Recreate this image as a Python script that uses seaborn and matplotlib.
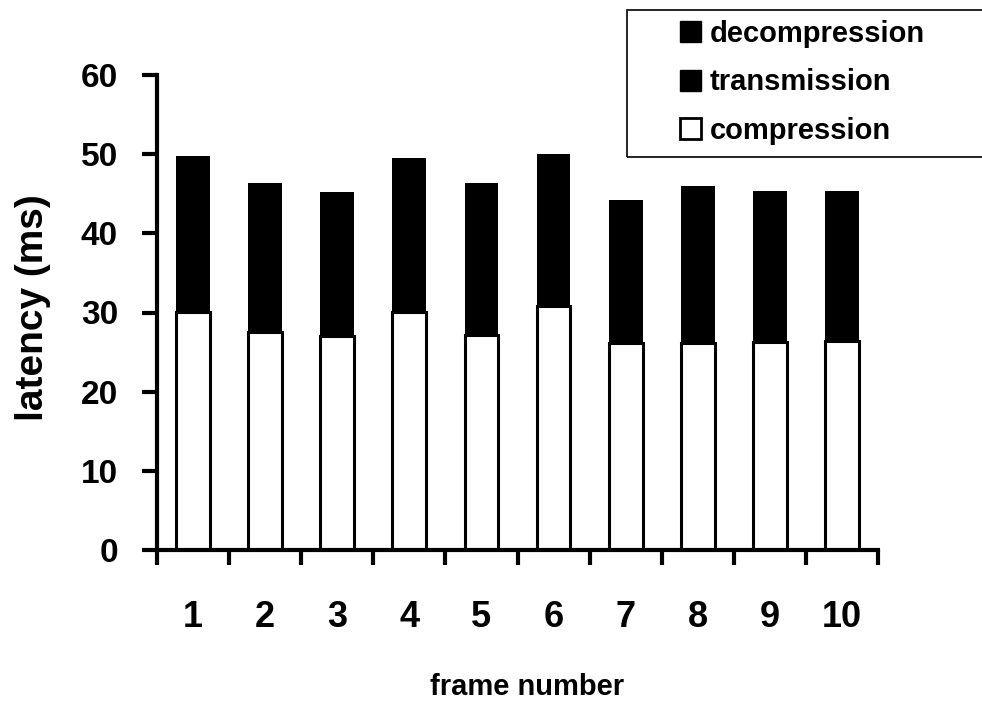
import matplotlib
matplotlib.use("Agg")
import matplotlib.pyplot as plt
from matplotlib.patches import Patch, Rectangle
import seaborn as sns
import pandas as pd
import numpy as np

# Latency per frame (ms), stacked: compression at the bottom
frames = ["1", "2", "3", "4", "5", "6", "7", "8", "9", "10"]
compression = [30.1, 27.5, 27.0, 30.1, 27.1, 30.8, 26.1, 26.1, 26.3, 26.4]
transmission = [19.2, 18.3, 17.7, 18.9, 18.7, 18.7, 17.6, 19.4, 18.5, 18.5]
decompression = [0.5, 0.5, 0.5, 0.5, 0.5, 0.5, 0.5, 0.5, 0.5, 0.5]
y_ticks = [0, 10, 20, 30, 40, 50, 60]

sns.set_theme(style="white")
plt.rcParams["font.family"] = ["Liberation Sans", "DejaVu Sans"]
plt.rcParams["font.weight"] = "bold"
for key in ["text.color", "axes.labelcolor", "xtick.color", "ytick.color"]:
    plt.rcParams[key] = "black"

df = pd.DataFrame({
    "frame": frames,
    "compression": compression,
    "transmission": transmission,
    "decompression": decompression,
})
df["comp_trans"] = df["compression"] + df["transmission"]
df["total"] = df["comp_trans"] + df["decompression"]

W, H = 982, 711
fig = plt.figure(figsize=(W / 100, H / 100), dpi=100)
ax = fig.add_axes([157 / W, 1 - 550 / H, (878 - 157) / W, (550 - 75) / H])

bar_w = 0.47
# Stack drawn back to front: full height, then compression+transmission, then compression
sns.barplot(data=df, x="frame", y="total", order=frames, color="black",
            width=bar_w, saturation=1, edgecolor="black", linewidth=0, ax=ax)
sns.barplot(data=df, x="frame", y="comp_trans", order=frames, color="black",
            width=bar_w, saturation=1, edgecolor="black", linewidth=0, ax=ax)
sns.barplot(data=df, x="frame", y="compression", order=frames, color="white",
            width=bar_w, saturation=1, edgecolor="black", linewidth=2.2, ax=ax)

ax.set_xlim(-0.5, len(frames) - 0.5)
ax.set_ylim(0, 60)
ax.set_yticks(y_ticks)
ax.set_yticklabels([str(t) for t in y_ticks], fontsize=24, fontweight="bold")
ax.set_xticks(np.arange(len(frames)))
ax.set_xticklabels(frames, fontsize=26, fontweight="bold")
# category boundaries carry the x tick marks
ax.set_xticks(np.arange(len(frames) + 1) - 0.5, minor=True)
ax.tick_params(axis="x", which="major", length=0, pad=36)
ax.tick_params(axis="x", which="minor", length=11, width=3, direction="out",
               color="black", bottom=True)
ax.tick_params(axis="y", which="major", length=11, width=3, direction="out",
               color="black", left=True, pad=17)

for side in ["top", "right"]:
    ax.spines[side].set_visible(False)
for side in ["left", "bottom"]:
    ax.spines[side].set_color("black")
    ax.spines[side].set_linewidth(3)

ax.set_xlabel("frame number", fontsize=21, fontweight="bold")
ax.xaxis.set_label_coords(0.513, -0.305)
ax.xaxis.label.set_va("baseline")
ax.set_ylabel("latency (ms)", fontsize=28, fontweight="bold")
ax.yaxis.set_label_coords(-0.147, 0.51)
ax.grid(False)

handles = [
    Patch(facecolor="black", edgecolor="black", label="decompression"),
    Patch(facecolor="black", edgecolor="black", label="transmission"),
    Patch(facecolor="white", edgecolor="black", linewidth=2, label="compression"),
]
leg = fig.legend(handles=handles, loc="upper left",
                 bbox_to_anchor=(680 / W, 1 - 20 / H),
                 frameon=False, prop={"weight": "bold", "size": 21},
                 handlelength=0.72, handleheight=0.72, handletextpad=0.3,
                 labelspacing=0.7, borderpad=0, borderaxespad=0)

# legend box runs past the right edge of the figure
fig.patches.append(Rectangle((627 / W, 1 - 157 / H), (W + 10 - 627) / W, 147 / H,
                             transform=fig.transFigure, fill=False,
                             edgecolor="black", linewidth=1.2, clip_on=False))

fig.savefig("out.png", dpi=100, facecolor="white")
